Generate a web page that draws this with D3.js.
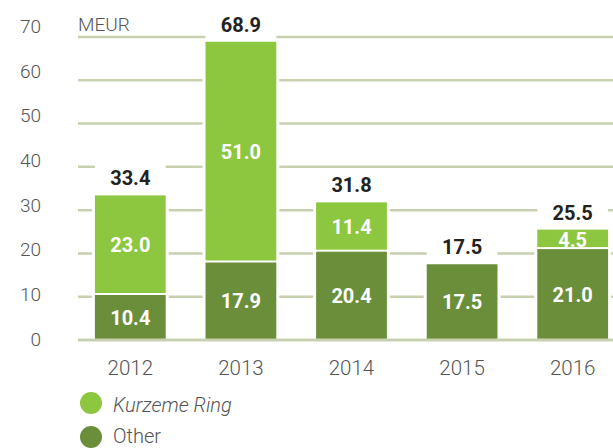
<!DOCTYPE html>
<html>
<head>
<meta charset="utf-8">
<script src="https://cdn.jsdelivr.net/npm/d3@7"></script>
<style>
  body { margin: 0; background: #fff; }
  text { font-family: Roboto, "Liberation Sans", sans-serif; }
</style>
</head>
<body>
<div id="root"></div>
<script>
// data
var years = ["2012", "2013", "2014", "2015", "2016"]
var other = [10.4, 17.9, 20.4, 17.5, 21.0]
var kurzeme = [23.0, 51.0, 11.4, 0, 4.5]
var totals = [33.4, 68.9, 31.8, 17.5, 25.5]
var yTicks = [0, 10, 20, 30, 40, 50, 60, 70]

var lightGreen = "#8dc63f"
var darkGreen = "#6b8e3b"
var gridColor = "#c7d1b0"

var width = 613
var height = 448

var svg = d3.select("#root")
            .append("svg")
            .attr("width", width)
            .attr("height", height)

var x = d3.scaleBand()
          .domain(years)
          .range([75, 628])
          .paddingInner(0.36)
          .paddingOuter(0.18)

var y = d3.scaleLinear()
          .domain([0, 70])
          .range([340, 37])

// tick labels sit on a slightly stretched scale in the original
var yLabel = d3.scaleLinear()
               .domain([0, 70])
               .range([339, 26])

// gridlines
svg.selectAll(".grid")
    .data(yTicks.slice(1))
    .enter()
    .append("line")
      .attr("x1", 78)
      .attr("x2", width)
      .attr("y1", function(d){ return y(d) })
      .attr("y2", function(d){ return y(d) })
      .attr("stroke", gridColor)
      .attr("stroke-width", 2.5)

// white boxes behind the columns and total labels (cut the gridlines)
svg.selectAll(".cut")
    .data(years)
    .enter()
    .append("rect")
      .attr("x", function(d){ return x(d) - 3 })
      .attr("width", x.bandwidth() + 6)
      .attr("y", function(d, i){ return y(totals[i]) - 2 })
      .attr("height", function(d, i){ return y(0) - y(totals[i]) + 2 })
      .attr("fill", "#fff")

svg.selectAll(".cutlabel")
    .data(years)
    .enter()
    .append("rect")
      .attr("x", function(d){ return x(d) })
      .attr("width", x.bandwidth())
      .attr("y", function(d, i){ return y(totals[i]) - 34 })
      .attr("height", 34)
      .attr("fill", "#fff")

// bars: other (bottom)
svg.selectAll(".other")
    .data(years)
    .enter()
    .append("rect")
      .attr("x", function(d){ return x(d) })
      .attr("width", x.bandwidth())
      .attr("y", function(d, i){ return y(other[i]) })
      .attr("height", function(d, i){ return y(0) - y(other[i]) })
      .attr("fill", darkGreen)

// bars: Kurzeme Ring (top)
svg.selectAll(".kurzeme")
    .data(years.filter(function(d, i){ return kurzeme[i] > 0 }))
    .enter()
    .append("rect")
      .attr("x", function(d){ return x(d) })
      .attr("width", x.bandwidth())
      .attr("y", function(d){ var i = years.indexOf(d); return y(other[i] + kurzeme[i]) })
      .attr("height", function(d){ var i = years.indexOf(d); return y(other[i]) - y(other[i] + kurzeme[i]) - 2 })
      .attr("fill", lightGreen)

// baseline
svg.append("line")
    .attr("x1", 78)
    .attr("x2", width)
    .attr("y1", y(0))
    .attr("y2", y(0))
    .attr("stroke", gridColor)
    .attr("stroke-width", 3)

// y labels
svg.selectAll(".ylab")
    .data(yTicks)
    .enter()
    .append("text")
      .attr("x", 41)
      .attr("y", function(d){ return yLabel(d) })
      .attr("dy", "0.36em")
      .attr("text-anchor", "end")
      .attr("font-size", 19)
      .attr("font-weight", 300)
      .attr("fill", "#555")
      .text(function(d){ return d })

svg.append("text")
    .attr("x", 78)
    .attr("y", 31)
    .attr("font-size", 19)
    .attr("font-weight", 300)
    .attr("fill", "#555")
    .text("MEUR")

// x labels
svg.selectAll(".xlab")
    .data(years)
    .enter()
    .append("text")
      .attr("x", function(d){ return x(d) + x.bandwidth() / 2 })
      .attr("y", 375)
      .attr("text-anchor", "middle")
      .attr("font-size", 20.5)
      .attr("font-weight", 300)
      .attr("fill", "#555")
      .text(function(d){ return d })

// totals
svg.selectAll(".total")
    .data(years)
    .enter()
    .append("text")
      .attr("x", function(d){ return x(d) + x.bandwidth() / 2 })
      .attr("y", function(d, i){ return y(totals[i]) - 10 })
      .attr("text-anchor", "middle")
      .attr("font-size", 20)
      .attr("font-weight", "bold")
      .attr("fill", "#222")
      .text(function(d, i){ return totals[i].toFixed(1) })

// segment labels
svg.selectAll(".otherlab")
    .data(years)
    .enter()
    .append("text")
      .attr("x", function(d){ return x(d) + x.bandwidth() / 2 })
      .attr("y", function(d, i){ return (y(0) + y(other[i])) / 2 })
      .attr("dy", "0.36em")
      .attr("text-anchor", "middle")
      .attr("font-size", 20)
      .attr("font-weight", "bold")
      .attr("fill", "#fff")
      .text(function(d, i){ return other[i].toFixed(1) })

svg.selectAll(".kurlab")
    .data(years.filter(function(d, i){ return kurzeme[i] > 0 }))
    .enter()
    .append("text")
      .attr("x", function(d){ return x(d) + x.bandwidth() / 2 })
      .attr("y", function(d){ var i = years.indexOf(d); return (y(other[i]) + y(other[i] + kurzeme[i])) / 2 })
      .attr("dy", "0.36em")
      .attr("text-anchor", "middle")
      .attr("font-size", 20)
      .attr("font-weight", "bold")
      .attr("fill", "#fff")
      .text(function(d){ return kurzeme[years.indexOf(d)].toFixed(1) })

// legend
var legend = [{name: "Kurzeme Ring", color: lightGreen, italic: true},
              {name: "Other", color: darkGreen, italic: false}]

svg.selectAll(".legdot")
    .data(legend)
    .enter()
    .append("circle")
      .attr("cx", 91)
      .attr("cy", function(d, i){ return 403 + i * 34 })
      .attr("r", 11)
      .attr("fill", function(d){ return d.color })

svg.selectAll(".legtext")
    .data(legend)
    .enter()
    .append("text")
      .attr("x", 113)
      .attr("y", function(d, i){ return 412 + i * 31 })
      .attr("font-size", 20)
      .attr("font-weight", 300)
      .attr("font-style", function(d){ return d.italic ? "italic" : "normal" })
      .attr("fill", "#555")
      .text(function(d){ return d.name })
</script>
</body>
</html>
